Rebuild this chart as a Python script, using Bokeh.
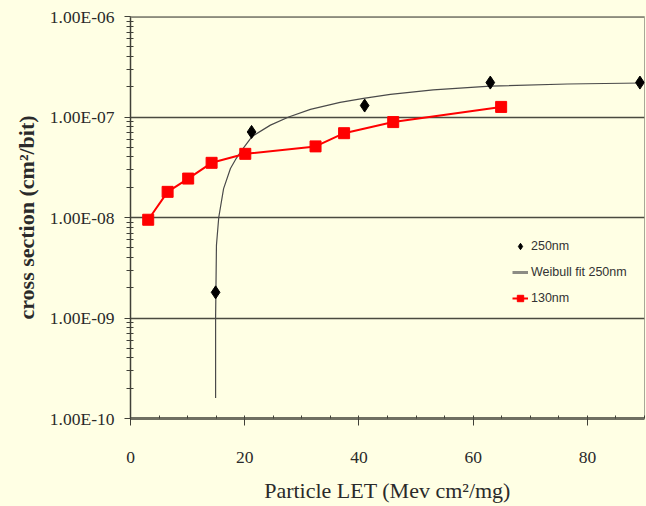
from bokeh.plotting import figure
from bokeh.models import FixedTicker, CustomJSTickFormatter, Legend, LegendItem, Span
from bokeh.embed import file_html
from bokeh.resources import INLINE

# 250nm measured points
let_250 = [14.9, 21.2, 41.0, 63.0, 89.2]
sig_250 = [1.8e-9, 7.1e-8, 1.3e-7, 2.2e-7, 2.2e-7]

# Weibull fit 250nm
let_fit = [14.9, 14.9, 15.05, 15.45, 16.3, 17.5, 18.5, 19.4, 21.3, 24.5, 27.7, 31.5, 36.7, 40.8,
           45.5, 53.0, 63.0, 76.5, 89.5]
sig_fit = [1.6e-10, 1.0e-9, 5.3e-9, 1.0e-8, 1.94e-8, 3.07e-8, 3.86e-8, 4.6e-8, 6.4e-8, 8.3e-8, 1.0e-7,
           1.19e-7, 1.4e-7, 1.53e-7, 1.68e-7, 1.86e-7, 2.03e-7, 2.13e-7, 2.18e-7]

# 130nm
let_130 = [3.1, 6.5, 10.1, 14.2, 20.1, 32.4, 37.4, 46.0, 64.9]
sig_130 = [9.5e-9, 1.8e-8, 2.44e-8, 3.5e-8, 4.3e-8, 5.1e-8, 6.9e-8, 8.9e-8, 1.26e-7]

y_ticks = [1e-10, 1e-9, 1e-8, 1e-7, 1e-6]
x_ticks = [0, 20, 40, 60, 80]

BG = "#FFFFE4"
SERIF = "Liberation Serif"

p = figure(width=646, height=506, output_backend="svg", toolbar_location=None,
           y_axis_type="log", x_range=(0, 90), y_range=(1e-10, 1e-6),
           min_border_left=130, min_border_right=2, min_border_top=16, min_border_bottom=88,
           background_fill_color=BG, border_fill_color=BG)

p.outline_line_color = "#a8a898"
p.outline_line_width = 1

# axes
minor_y = [m * t for t in y_ticks[:-1] for m in range(2, 10)]
p.yaxis.ticker = FixedTicker(ticks=y_ticks, minor_ticks=minor_y)
p.yaxis.formatter = CustomJSTickFormatter(code="""
const s = tick.toExponential(2);
const parts = s.split('e');
const e = parseInt(parts[1]);
const n = Math.abs(e);
return parts[0] + 'E' + (e < 0 ? '-' : '+') + (n < 10 ? '0' : '') + n;
""")
p.xaxis.ticker = FixedTicker(ticks=x_ticks, minor_ticks=list(range(0, 91, 5)))

for ax in (p.xaxis, p.yaxis):
    ax.major_label_text_font = SERIF
    ax.major_label_text_font_size = "17.5px"
    ax.major_label_text_color = "#2a2a2a"
    ax.axis_label_text_font = SERIF
    ax.axis_label_text_color = "#2a2a2a"
    ax.axis_label_text_font_size = "22px"

p.yaxis.axis_line_color = "#404038"
p.yaxis.axis_line_width = 1.5
p.yaxis.major_tick_line_color = "#404038"
p.yaxis.minor_tick_line_color = "#404038"
p.yaxis.major_tick_in = 0
p.yaxis.major_tick_out = 6
p.yaxis.minor_tick_in = 3
p.yaxis.minor_tick_out = 4
p.yaxis.major_label_standoff = 10
p.yaxis.axis_label = "cross section (cm²/bit)"
p.yaxis.axis_label_text_font_style = "bold"
p.yaxis.axis_label_standoff = 8

p.xaxis.axis_line_color = "#707062"
p.xaxis.axis_line_width = 3
p.xaxis.major_tick_line_color = "#404038"
p.xaxis.minor_tick_line_color = "#404038"
p.xaxis.major_tick_in = 0
p.xaxis.major_tick_out = 7
p.xaxis.minor_tick_in = 3
p.xaxis.minor_tick_out = 0
p.xaxis.major_label_standoff = 26
p.xaxis.axis_label = "Particle LET (Mev cm²/mg)"
p.xaxis.axis_label_text_font_style = "normal"
p.xaxis.axis_label_standoff = 12

p.xgrid.grid_line_color = None
p.ygrid.ticker = FixedTicker(ticks=y_ticks)
p.ygrid.grid_line_color = "#4a4a40"
p.ygrid.grid_line_width = 1.5

p.add_layout(Span(location=1e-6, dimension="width", line_color="#8c8c7c", line_width=3))

# data
r_fit = p.line(let_fit, sig_fit, line_color="#4a4a4a", line_width=1.2)
# legend key only (single point: draws nothing in the plot)
r_fit_key = p.line(let_fit[:1], sig_fit[:1], line_color="#8c8c84", line_width=3)
r_250 = p.scatter(let_250, sig_250, marker="diamond", size=13, fill_color="black", line_color="black")
r_130l = p.line(let_130, sig_130, line_color="#ff0000", line_width=2)
r_130s = p.scatter(let_130, sig_130, marker="square", size=11, fill_color="#ff0000", line_color="#ff0000")

legend = Legend(items=[
    LegendItem(label="250nm", renderers=[r_250]),
    LegendItem(label="Weibull fit 250nm", renderers=[r_fit_key]),
    LegendItem(label="130nm", renderers=[r_130l, r_130s]),
], location=(382, 110))
legend.background_fill_alpha = 0
legend.border_line_color = None
legend.label_text_font = "Liberation Sans"
legend.label_text_font_size = "12.5px"
legend.label_text_color = "#333333"
legend.glyph_width = 16
legend.glyph_height = 20
legend.label_height = 20
legend.spacing = 6
legend.padding = 0
legend.margin = 0
legend.label_standoff = 3
p.add_layout(legend)

html = file_html(p, INLINE)
i = html.rfind("<body>")
if i >= 0:
    html = html[:i] + '<body style="background-color:%s;">' % BG + html[i + len("<body>"):]
open("out.html", "w").write(html)
